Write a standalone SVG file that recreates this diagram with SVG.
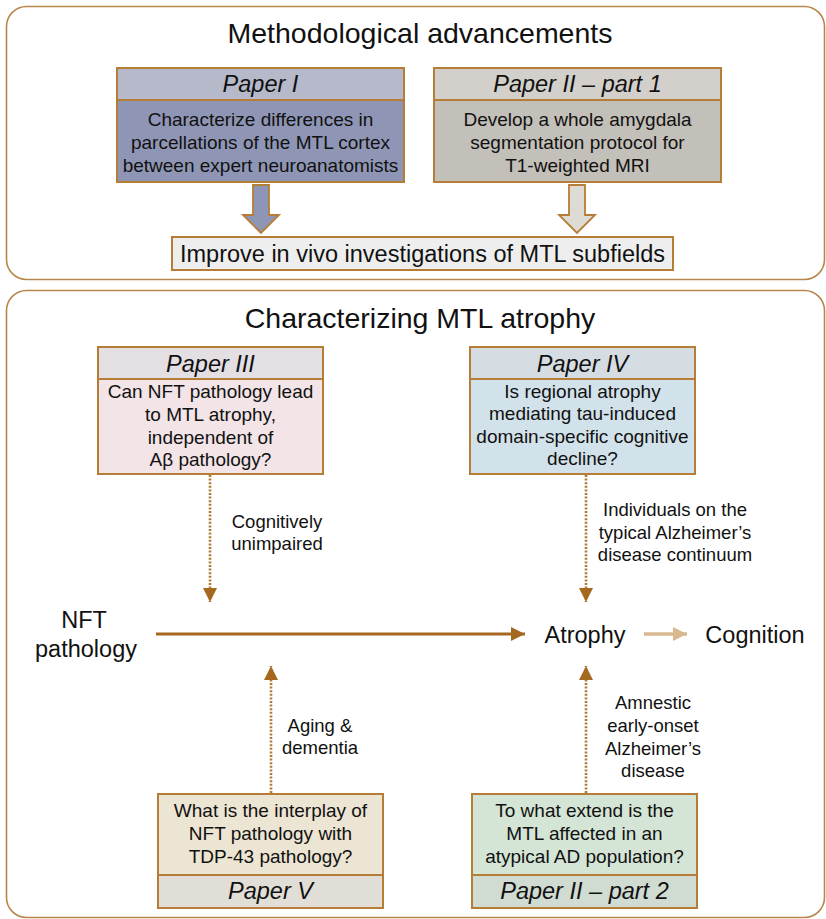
<svg xmlns="http://www.w3.org/2000/svg" width="826" height="919" viewBox="0 0 826 919">
<defs>
<style>
text{font-family:"Liberation Sans",Arial,sans-serif;fill:#111;text-anchor:middle}
.title{font-size:28.5px}
.hdr{font-size:23.5px;font-style:italic}
.body{font-size:19px}
.lbl{font-size:18.5px}
.big{font-size:23.5px}
.panel{fill:#fff;stroke:#b8864a;stroke-width:1.6}
.box{stroke:#b57d35;stroke-width:2}
.dot{fill:none;stroke:#b07a33;stroke-width:2.6;stroke-dasharray:2 1.6}
</style>
<marker id="ah" markerWidth="14" markerHeight="14" viewBox="0 0 14 14" refX="14" refY="7" orient="auto" markerUnits="userSpaceOnUse">
<path d="M0,0 L14,7 L0,14 Z" fill="#a5681f"/>
</marker>
<marker id="ahl" markerWidth="14" markerHeight="14" viewBox="0 0 14 14" refX="14" refY="7" orient="auto" markerUnits="userSpaceOnUse">
<path d="M0,0 L14,7 L0,14 Z" fill="#d8b990"/>
</marker>
</defs>
<rect width="826" height="919" fill="#fff"/>

<g id="panel-top">
<rect class="panel" x="6.5" y="6.5" width="818" height="273" rx="20"/>
<text class="title" x="420" y="43">Methodological advancements</text>
</g>
<g id="panel-bottom">
<rect class="panel" x="6.5" y="290.5" width="818" height="627" rx="20"/>
<text class="title" x="420" y="328">Characterizing MTL atrophy</text>
</g>

<g id="paper1">
<rect class="box" x="117" y="68" width="287" height="32" fill="#b5b9c9"/>
<rect class="box" x="117" y="100" width="287" height="82" fill="#8f96b5"/>
<text class="hdr" x="260.5" y="92">Paper I</text>
<text class="body" x="260.5" y="125.5">Characterize differences in</text>
<text class="body" x="260.5" y="148.5">parcellations of the MTL cortex</text>
<text class="body" x="260.5" y="171.5">between expert neuroanatomists</text>
</g>

<g id="paper2-part1">
<rect class="box" x="434" y="68" width="287" height="32" fill="#d3d0cb"/>
<rect class="box" x="434" y="100" width="287" height="82" fill="#c3bfb9"/>
<text class="hdr" x="577.5" y="92">Paper II – part 1</text>
<text class="body" x="577.5" y="125.5">Develop a whole amygdala</text>
<text class="body" x="577.5" y="148.5">segmentation protocol for</text>
<text class="body" x="577.5" y="171.5">T1-weighted MRI</text>
</g>

<g id="improve">
<rect class="box" x="172" y="237" width="501" height="33" fill="#eeeeee"/>
<text class="big" x="422.5" y="262">Improve in vivo investigations of MTL subfields</text>
</g>

<g id="paper3">
<rect class="box" x="98" y="347" width="225" height="32" fill="#e3dfe3"/>
<rect class="box" x="98" y="379" width="225" height="95" fill="#f3e4e7"/>
<text class="hdr" x="210.5" y="372">Paper III</text>
<text class="body" x="210.5" y="398">Can NFT pathology lead</text>
<text class="body" x="210.5" y="421">to MTL atrophy,</text>
<text class="body" x="210.5" y="443.5">independent of</text>
<text class="body" x="210.5" y="466">Aβ pathology?</text>
</g>

<g id="paper4">
<rect class="box" x="470" y="347" width="225" height="32" fill="#d6dde2"/>
<rect class="box" x="470" y="379" width="225" height="95" fill="#d2e2ea"/>
<text class="hdr" x="582.5" y="372">Paper IV</text>
<text class="body" x="582.5" y="397.5">Is regional atrophy</text>
<text class="body" x="582.5" y="420">mediating tau-induced</text>
<text class="body" x="582.5" y="442.5">domain-specific cognitive</text>
<text class="body" x="582.5" y="465">decline?</text>
</g>

<g id="nft">
<text class="big" x="84" y="628">NFT</text>
<text class="big" x="86" y="657">pathology</text>
</g>
<g id="atrophy">
<text class="big" x="585" y="643">Atrophy</text>
</g>
<g id="cognition">
<text class="big" x="755" y="643">Cognition</text>
</g>

<g id="paper5">
<rect class="box" x="158" y="794" width="225" height="81" fill="#ede5d3"/>
<rect class="box" x="158" y="875" width="225" height="33" fill="#e1ded7"/>
<text class="body" x="270.5" y="817">What is the interplay of</text>
<text class="body" x="270.5" y="840">NFT pathology with</text>
<text class="body" x="270.5" y="863">TDP-43 pathology?</text>
<text class="hdr" x="270.5" y="899">Paper V</text>
</g>

<g id="paper2-part2">
<rect class="box" x="472" y="794" width="225" height="81" fill="#d4e5d6"/>
<rect class="box" x="472" y="875" width="225" height="33" fill="#d0dbd2"/>
<text class="body" x="584.5" y="817">To what extend is the</text>
<text class="body" x="584.5" y="840">MTL affected in an</text>
<text class="body" x="584.5" y="863">atypical AD population?</text>
<text class="hdr" x="584.5" y="899">Paper II – part 2</text>
</g>

<g id="connectors">
<path d="M253,185 H269 V215 H279 L261,233 L243,215 H253 Z" fill="#8f96b5" stroke="#b57d35" stroke-width="1.8"/>
<path d="M569,185 H585 V215 H595 L577,233 L559,215 H569 Z" fill="#dedad4" stroke="#b57d35" stroke-width="1.8"/>

<line class="dot" x1="210" y1="475" x2="210" y2="602" marker-end="url(#ah)"/>
<line class="dot" x1="586" y1="475" x2="586" y2="602" marker-end="url(#ah)"/>
<line class="dot" x1="271" y1="793" x2="271" y2="666" marker-end="url(#ah)"/>
<line class="dot" x1="586" y1="793" x2="586" y2="666" marker-end="url(#ah)"/>

<line x1="156" y1="634" x2="525" y2="634" stroke="#a5681f" stroke-width="3" marker-end="url(#ah)"/>
<line x1="644" y1="634" x2="687" y2="634" stroke="#d8b990" stroke-width="3.5" marker-end="url(#ahl)"/>

<text class="lbl" x="277" y="528">Cognitively</text>
<text class="lbl" x="277" y="550">unimpaired</text>
<text class="lbl" x="675" y="516">Individuals on the</text>
<text class="lbl" x="675" y="538.5">typical Alzheimer’s</text>
<text class="lbl" x="675" y="561">disease continuum</text>
<text class="lbl" x="320" y="732">Aging &amp;</text>
<text class="lbl" x="320" y="754">dementia</text>
<text class="lbl" x="653" y="709">Amnestic</text>
<text class="lbl" x="653" y="732">early-onset</text>
<text class="lbl" x="653" y="755">Alzheimer’s</text>
<text class="lbl" x="653" y="777">disease</text>
</g>
</svg>
